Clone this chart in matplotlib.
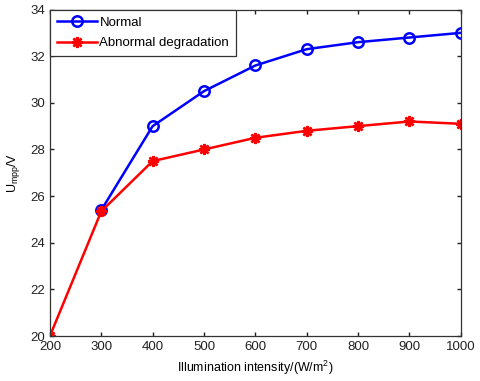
import matplotlib
matplotlib.use('Agg')
import matplotlib.pyplot as plt

plt.rcParams['font.family'] = ['Liberation Sans', 'DejaVu Sans']
plt.rcParams['mathtext.fontset'] = 'custom'
plt.rcParams['mathtext.rm'] = 'Liberation Sans'
plt.rcParams['mathtext.it'] = 'Liberation Sans'

illum_normal = [300, 400, 500, 600, 700, 800, 900, 1000]
u_normal = [25.4, 29.0, 30.5, 31.6, 32.3, 32.6, 32.8, 33.0]

illum_abnormal = [200, 300, 400, 500, 600, 700, 800, 900, 1000]
u_abnormal = [20.0, 25.35, 27.5, 28.0, 28.5, 28.8, 29.0, 29.2, 29.1]

x_ticks = [200, 300, 400, 500, 600, 700, 800, 900, 1000]
y_ticks = [20, 22, 24, 26, 28, 30, 32, 34]

fig = plt.figure(figsize=(4.8, 3.81), dpi=100)
ax = fig.add_axes([0.104, 0.118, 0.856, 0.857])

ax.plot(illum_normal, u_normal, color='#0000ff', lw=1.8, marker='o',
        ms=7.5, mfc='none', mew=1.8, label='Normal')
ax.plot(illum_abnormal, u_abnormal, color='#ff0000', lw=1.8, marker=(8, 2, 0),
        ms=8, mew=1.8, label='Abnormal degradation')

ax.set_xlim(200, 1000)
ax.set_ylim(20, 34)
ax.set_xticks(x_ticks)
ax.set_yticks(y_ticks)
ax.tick_params(direction='in', length=3, width=1, top=True, right=True,
               labelsize=9.5, colors='#222222')
for s in ax.spines.values():
    s.set_color('#333333')
    s.set_linewidth(0.9)

ax.set_xlabel('Illumination intensity/(W/m$^2$)', fontsize=9, labelpad=4)
ax.set_ylabel('U$_{mpp}$/V', fontsize=9, labelpad=6)

leg = ax.legend(loc='upper left', fontsize=9.5, fancybox=False,
                edgecolor='#333333', framealpha=1, borderaxespad=0,
                handlelength=3.0, handletextpad=0.2, borderpad=0.55,
                labelspacing=0.6)
leg.get_frame().set_linewidth(0.9)

fig.savefig('out.png', dpi=100)
